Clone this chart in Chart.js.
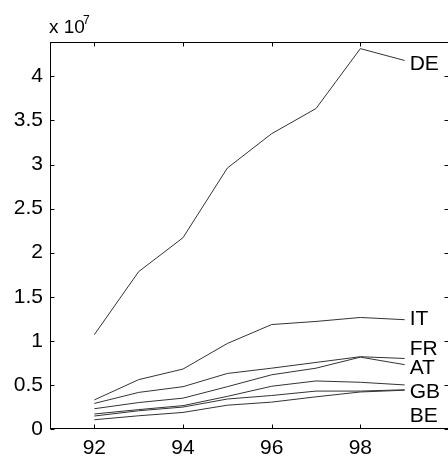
<!DOCTYPE html>
<html>
<head>
<meta charset="utf-8">
<script src="https://cdn.jsdelivr.net/npm/chart.js@4/dist/chart.umd.min.js"></script>
<style>
  html, body { margin: 0; padding: 0; background: #fff; overflow: hidden; }
  #wrap { width: 450px; height: 464px; }
</style>
</head>
<body>
<div id="wrap"><canvas id="myChart" width="450" height="464"></canvas></div>
<script>
// years on x, values in units of 10^7
var years = [92, 93, 94, 95, 96, 97, 98, 99];
var de = [1.07, 1.785, 2.17, 2.96, 3.35, 3.635, 4.315, 4.18];
var it = [0.33, 0.56, 0.68, 0.97, 1.185, 1.22, 1.265, 1.24];
var fr = [0.29, 0.415, 0.48, 0.63, 0.69, 0.755, 0.82, 0.80];
var at = [0.23, 0.30, 0.35, 0.48, 0.615, 0.69, 0.815, 0.73];
var gb = [0.17, 0.22, 0.265, 0.37, 0.485, 0.545, 0.53, 0.50];
var other = [0.147, 0.207, 0.249, 0.34, 0.38, 0.43, 0.43, 0.445];
var be = [0.105, 0.15, 0.188, 0.27, 0.305, 0.365, 0.42, 0.44];
var names = ['DE', 'IT', 'FR', 'AT', 'GB', '', 'BE'];
var series = [de, it, fr, at, gb, other, be];
var xTicks = [92, 94, 96, 98];
var yTicks = [0, 0.5, 1, 1.5, 2, 2.5, 3, 3.5, 4];

var font = 'Liberation Sans, Arial, sans-serif';

function pts(vals) {
    return vals.map(function (v, i) { return { x: years[i], y: v }; });
}

// box with inward ticks, the x 10^7 note and the end labels
var matlabLook = {
    id: 'matlabLook',
    afterDatasetsDraw: function (chart, args, opts) {
        var ctx = chart.ctx;
        var a = chart.chartArea;
        var xs = chart.scales.x, ys = chart.scales.y;
        var L = Math.round(a.left) + 0.5, R = Math.round(a.right) - 0.5;
        var T = Math.round(a.top) + 0.5, B = Math.round(a.bottom) - 0.5;
        ctx.save();
        ctx.strokeStyle = '#000';
        ctx.lineWidth = 1;
        ctx.strokeRect(L, T, R - L, B - T);
        ctx.beginPath();
        xTicks.forEach(function (v) {
            var px = Math.round(xs.getPixelForValue(v)) + 0.5;
            ctx.moveTo(px, B); ctx.lineTo(px, B - 4);
            ctx.moveTo(px, T); ctx.lineTo(px, T + 4);
        });
        yTicks.forEach(function (v) {
            var py = Math.round(ys.getPixelForValue(v)) + 0.5;
            ctx.moveTo(L, py); ctx.lineTo(L + 4, py);
            ctx.moveTo(R, py); ctx.lineTo(R - 4, py);
        });
        ctx.stroke();

        ctx.fillStyle = '#000';
        ctx.textBaseline = 'alphabetic';
        ctx.textAlign = 'left';
        ctx.font = '19px ' + font;
        ctx.fillText('x 10', 49, 32.5);
        ctx.font = '12px ' + font;
        ctx.fillText('7', 83, 23.5);

        ctx.font = '21px ' + font;
        ctx.textBaseline = 'middle';
        chart.data.datasets.forEach(function (ds, i) {
            if (!ds.label) return;
            var meta = chart.getDatasetMeta(i);
            var p = meta.data[meta.data.length - 1];
            var nudge = opts.nudge[ds.label] || 0;
            ctx.fillText(ds.label, p.x + 5, p.y + nudge);
        });
        ctx.restore();
    }
};

var ctx = document.getElementById('myChart');

var myChart = new Chart(ctx, {
    type: 'line',
    data: {
        datasets: series.map(function (vals, i) {
            return {
                label: names[i],
                data: pts(vals),
                borderColor: '#333',
                borderWidth: 1,
                pointRadius: 0,
                tension: 0,
                fill: false
            };
        })
    },
    options: {
        responsive: false,
        animation: false,
        layout: { padding: { top: 42, right: 1, left: 0, bottom: 0 } },
        plugins: {
            legend: { display: false },
            tooltip: { enabled: false },
            matlabLook: { nudge: { DE: 4, IT: 0, FR: -9, AT: 4, GB: 7.5, BE: 26 } }
        },
        scales: {
            x: {
                type: 'linear',
                min: 91,
                max: 100,
                afterBuildTicks: function (s) { s.ticks = xTicks.map(function (v) { return { value: v }; }); },
                afterFit: function (s) { s.height = 35; },
                grid: { display: false, drawTicks: false },
                border: { display: false },
                ticks: {
                    padding: 7,
                    maxRotation: 0,
                    color: '#000',
                    font: { family: font, size: 21 },
                    callback: function (v) { return String(v); }
                }
            },
            y: {
                min: 0,
                max: 4.39,
                afterBuildTicks: function (s) { s.ticks = yTicks.map(function (v) { return { value: v }; }); },
                afterFit: function (s) { s.width = 50; },
                grid: { display: false, drawTicks: false },
                border: { display: false },
                ticks: {
                    padding: 7,
                    color: '#000',
                    font: { family: font, size: 21 },
                    callback: function (v) { return String(v); }
                }
            }
        }
    },
    plugins: [matlabLook]
});
</script>
</body>
</html>
